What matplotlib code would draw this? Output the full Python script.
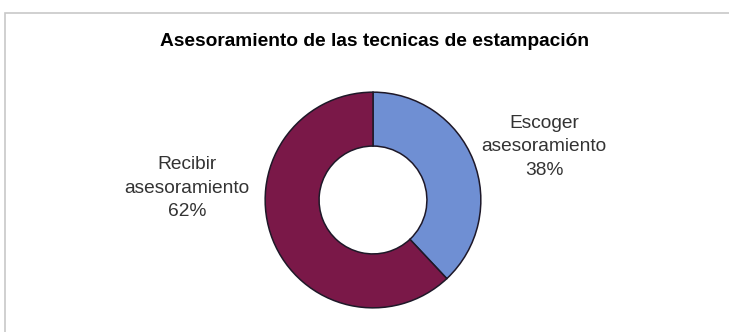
import matplotlib
matplotlib.use("Agg")
import matplotlib.pyplot as plt
from matplotlib.patches import Rectangle

title = "Asesoramiento de las tecnicas de estampación"
categories = ["Escoger\nasesoramiento", "Recibir\nasesoramiento"]
values = [38, 62]
colors = ["#6F8FD3", "#7A1848"]

W, H = 729, 332
fig = plt.figure(figsize=(W / 100, H / 100), dpi=100)
fig.patch.set_facecolor("white")

# light frame around the chart area (open to the right and bottom)
fig.add_artist(Rectangle((5 / W, -0.05), 1.2, (H - 13) / H + 0.05,
                         transform=fig.transFigure, fill=False,
                         edgecolor="#C8C8C8", linewidth=1.2))

fig.text(374 / W, 1 - 41 / H, title, ha="center", va="center",
         fontsize=13.8, fontweight="bold", family="Liberation Sans",
         color="#000000")

cx, cy, r = 373, 200, 110
ax = fig.add_axes([(cx - r) / W, (H - cy - r) / H, 2 * r / W, 2 * r / H])
wedges, _ = ax.pie(values, colors=colors, startangle=90, counterclock=False,
                   radius=1.0,
                   wedgeprops=dict(width=0.5, edgecolor="#1E1828", linewidth=1.1))
ax.set_xlim(-1.02, 1.02)
ax.set_ylim(-1.02, 1.02)
ax.set_aspect("equal")
ax.axis("off")

total = sum(values)
label_pos = [(544, 147), (187, 188)]
for cat, v, (lx, ly) in zip(categories, values, label_pos):
    pct = round(100 * v / total)
    fig.text(lx / W, 1 - ly / H, f"{cat}\n{pct}%", ha="center", va="center",
             fontsize=13.8, family="Liberation Sans", color="#333333",
             linespacing=1.52)

fig.savefig("out.png", dpi=100, facecolor="white")
